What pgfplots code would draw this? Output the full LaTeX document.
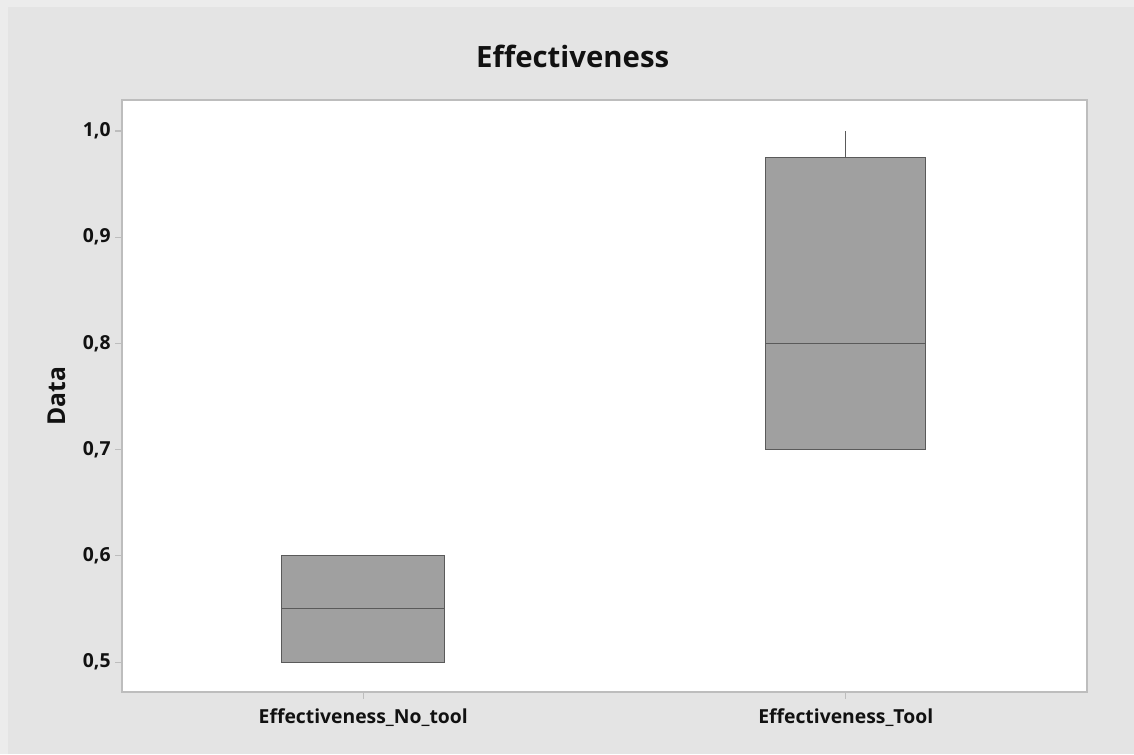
\documentclass[border=0pt]{standalone}
\usepackage{pgfplots}
\pgfplotsset{compat=1.18}
\usepgfplotslibrary{statistics}
\usepackage{fontspec}
\setmainfont{Open Sans}
\definecolor{bgouter}{HTML}{ECECEC}
\definecolor{bggray}{HTML}{E4E4E4}
\definecolor{axisgray}{HTML}{BDBDBD}
\definecolor{boxfill}{HTML}{A0A0A0}
\definecolor{boxline}{HTML}{5A5A5A}
\definecolor{txt}{HTML}{111111}
\begin{document}
\begin{tikzpicture}
\fill[bgouter] (0pt,0pt) rectangle (850.5pt,565.5pt);
\fill[bggray] (6pt,0pt) rectangle (850.5pt,560.25pt);
\begin{axis}[
  at={(91.5pt,46.5pt)}, anchor=south west,
  scale only axis, width=723.75pt, height=444pt,
  xmin=0.5, xmax=2.5, ymin=0.4718, ymax=1.0292,
  boxplot/draw direction=y,
  axis background/.style={fill=white},
  axis line style={draw=axisgray, line width=0.8pt},
  xtick={1,2}, xticklabels={Effectiveness\_No\_tool, Effectiveness\_Tool},
  ytick={0.5,0.6,0.7,0.8,0.9,1.0},
  xtick pos=bottom, ytick pos=left,
  tick align=outside, major tick length=5pt,
  major tick style={draw=axisgray, line width=0.8pt},
  yticklabel style={/pgf/number format/.cd, fixed, fixed zerofill, precision=1, use comma, assume math mode=true},
  ticklabel style={font=\fontsize{14.5}{17}\selectfont\bfseries, text=txt},
  xticklabel style={yshift=-4pt},
  title={Effectiveness},
  title style={font=\fontsize{22}{26}\selectfont\bfseries, text=txt, at={(axis description cs:0.467,1.060)}, anchor=center},
  ylabel={Data},
  ylabel style={font=\fontsize{18.5}{22}\selectfont\bfseries, text=txt, at={(axis description cs:-0.068,0.5)}, anchor=center},
]
\addplot[boxplot prepared={draw position=1, lower whisker=0.5, lower quartile=0.5, median=0.55, upper quartile=0.6, upper whisker=0.6, box extend=0.337, whisker extend=0}, draw=boxline, fill=boxfill, line width=0.8pt] coordinates {};
\addplot[boxplot prepared={draw position=2, lower whisker=0.7, lower quartile=0.7, median=0.8, upper quartile=0.975, upper whisker=1.0, box extend=0.331, whisker extend=0}, draw=boxline, fill=boxfill, line width=0.8pt] coordinates {};
\end{axis}
\end{tikzpicture}
\end{document}
